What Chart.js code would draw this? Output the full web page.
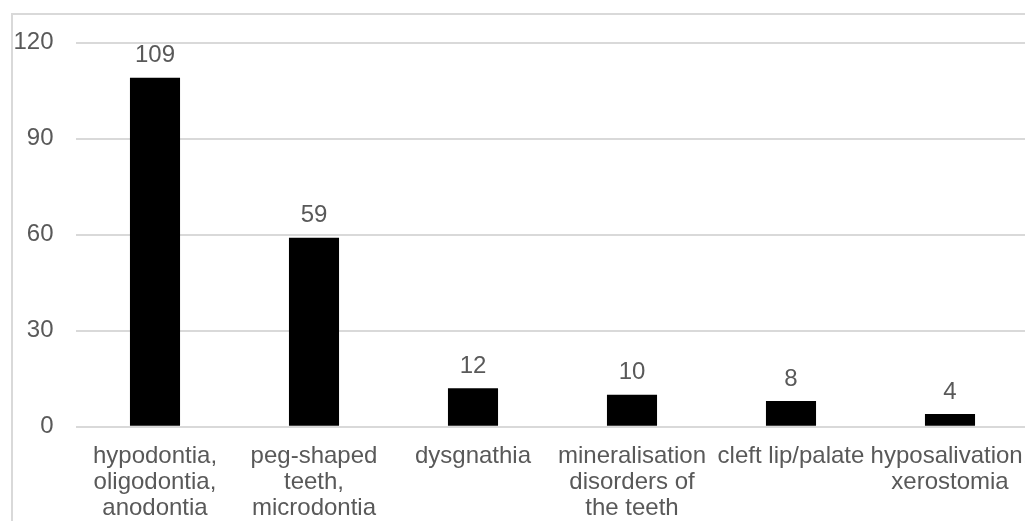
<!DOCTYPE html>
<html>
<head>
<meta charset="utf-8">
<script src="https://cdn.jsdelivr.net/npm/chart.js@4.4.1/dist/chart.umd.min.js"></script>
<style>
  body { margin: 0; background: #fff; overflow: hidden; }
  #frame {
    position: absolute;
    left: 11px;
    top: 13px;
    width: 1030px;
    height: 540px;
    border: 2px solid #d9d9d9;
  }
</style>
</head>
<body>
<div id="frame"><canvas id="barChart"></canvas></div>
<script>
// chart data
const categories = [
  ["hypodontia,", "oligodontia,", "anodontia"],
  ["peg-shaped", "teeth,", "microdontia"],
  "dysgnathia",
  ["mineralisation", "disorders of", "the teeth"],
  "cleft lip/palate",
  ["hyposalivation,", "xerostomia"],
];
const counts = [109, 59, 12, 10, 8, 4];
const yTicks = [0, 30, 60, 90, 120];

const textColor = "#595959";
const fontFamily = "'Liberation Sans', Arial, sans-serif";

// draws the value above each bar
const valueLabels = {
  id: "valueLabels",
  afterDatasetsDraw(chart) {
    const ctx = chart.ctx;
    const meta = chart.getDatasetMeta(0);
    ctx.save();
    ctx.fillStyle = textColor;
    ctx.font = "24px " + fontFamily;
    ctx.textAlign = "center";
    ctx.textBaseline = "middle";
    meta.data.forEach(function (bar, i) {
      ctx.fillText(String(counts[i]), bar.x, bar.y - 22);
    });
    ctx.restore();
  },
};

const chartEl = document.getElementById("barChart");

new Chart(chartEl, {
  type: "bar",
  data: {
    labels: categories,
    datasets: [
      {
        label: "count",
        data: counts,
        backgroundColor: "#000000",
        barPercentage: 0.315,
        categoryPercentage: 1,
      },
    ],
  },
  options: {
    responsive: true,
    maintainAspectRatio: false,
    animation: false,
    layout: {
      padding: { top: 27.5, right: 13.5, left: 0, bottom: 0 },
    },
    scales: {
      y: {
        min: 0,
        max: 120,
        afterBuildTicks: function (scale) {
          scale.ticks = yTicks.map((v) => ({ value: v }));
        },
        afterFit: function (scale) {
          scale.width = 62.5;
          scale.paddingTop = 0;
          scale.paddingBottom = 0;
        },
        ticks: {
          color: textColor,
          padding: 22,
          font: { size: 24, family: fontFamily },
        },
        grid: {
          color: "#d9d9d9",
          lineWidth: 2,
          drawTicks: false,
        },
        border: { display: false },
      },
      x: {
        afterFit: function (scale) {
          scale.height = 128.3;
          scale.paddingLeft = 0;
          scale.paddingRight = 0;
        },
        ticks: {
          color: textColor,
          padding: 8,
          maxRotation: 0,
          autoSkip: false,
          font: { size: 24, family: fontFamily, lineHeight: 1.1 },
        },
        grid: { display: false },
        border: { display: false },
      },
    },
    plugins: {
      legend: { display: false },
      tooltip: { enabled: false },
    },
  },
  plugins: [valueLabels],
});
</script>
</body>
</html>
